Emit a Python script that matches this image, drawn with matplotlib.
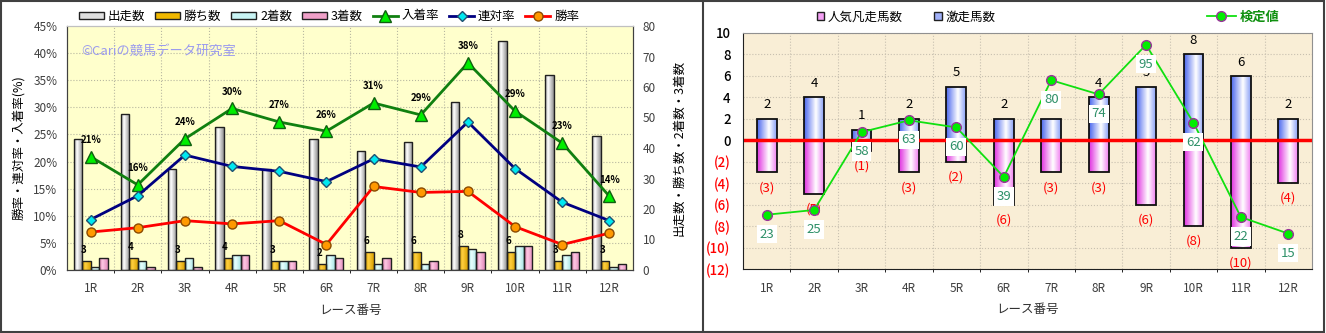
import numpy as np
import matplotlib
matplotlib.use('Agg')
import matplotlib.pyplot as plt
from matplotlib.colors import LinearSegmentedColormap
from matplotlib.patches import Rectangle, Patch
from matplotlib.lines import Line2D

plt.rcParams['font.family'] = ['Noto Sans CJK JP', 'DejaVu Sans']

# --- data (left chart) ---
races = [f'{i}R' for i in range(1, 13)]
runners = [43, 51, 33, 47, 33, 43, 39, 42, 55, 75, 64, 44]
wins = [3, 4, 3, 4, 3, 2, 6, 6, 8, 6, 3, 3]
seconds = [1, 3, 4, 5, 3, 5, 2, 2, 7, 8, 5, 1]
thirds = [4, 1, 1, 5, 3, 4, 4, 3, 6, 8, 6, 2]
place_rate = [20.9, 15.7, 24.2, 29.8, 27.3, 25.6, 30.8, 28.6, 38.2, 29.3, 23.4, 13.6]
quinella_rate = [9.3, 13.7, 21.2, 19.1, 18.2, 16.3, 20.5, 19.0, 27.3, 18.7, 12.5, 9.1]
win_rate = [7.0, 7.8, 9.1, 8.5, 9.1, 4.7, 15.4, 14.3, 14.5, 8.0, 4.7, 6.8]

# --- data (right chart) ---
hot_runs = [2, 4, 1, 2, 5, 2, 2, 4, 5, 8, 6, 2]        # 激走馬数
flop_runs = [3, 5, 1, 3, 2, 6, 3, 3, 6, 8, 10, 4]      # 人気凡走馬数
score = [23, 25, 58, 63, 60, 39, 80, 74, 95, 62, 22, 15]  # 検定値


def cmap(*cols):
    return LinearSegmentedColormap.from_list('c', list(cols))


def shade(ax, bars, cm):
    # cylinder-ish horizontal gradient like the Excel bars
    g = np.linspace(0, 1, 64).reshape(1, -1)
    for b in bars:
        x, y = b.get_xy()
        w, h = b.get_width(), b.get_height()
        b.set_facecolor('none')
        im = ax.imshow(g, cmap=cm, extent=(x, x + w, y, y + h), aspect='auto',
                       origin='lower', zorder=b.get_zorder() - 0.1,
                       interpolation='bilinear')
        im.set_clip_path(b)


fig = plt.figure(figsize=(13.26, 3.33), dpi=100)
W, H = 1326, 333

x = np.arange(len(races))

# ================= left chart =================
axb = fig.add_axes([67 / W, 1 - 270 / H, 566 / W, 244 / H])
axl = axb.twinx()
axb.set_facecolor('#FFFFCC')

bw = 0.18
cm_run = cmap((0, '#a0a0a0'), (0.35, '#ffffff'), (1, '#909090'))
cm_win = cmap((0, '#d09a00'), (0.4, '#ffd040'), (1, '#d8a000'))
cm_2nd = cmap((0, '#9fdcdc'), (0.4, '#eaffff'), (1, '#a8e4e4'))
cm_3rd = cmap((0, '#d878a8'), (0.4, '#ffc8e4'), (1, '#e088b8'))

specs = [(runners, cm_run, '出走数', '#e0e0e0'),
         (wins, cm_win, '勝ち数', '#f0b800'),
         (seconds, cm_2nd, '2着数', '#c8f4f4'),
         (thirds, cm_3rd, '3着数', '#f0a0c8')]
handles = []
for i, (vals, cm, lab, col) in enumerate(specs):
    bars = axb.bar(x + (i - 1.5) * bw, vals, bw, edgecolor='#202020', linewidth=1.0, zorder=2)
    shade(axb, bars, cm)
    handles.append(Patch(facecolor=col, edgecolor='#202020', linewidth=1.0, label=lab))

for xi, v in zip(x, wins):
    axb.annotate(str(v), (xi - 0.5 * bw, v), xytext=(-2, 4), textcoords='offset points',
                 ha='center', va='bottom', fontsize=7, fontweight='bold', zorder=3)

axb.set_ylim(0, 80)
axb.set_yticks(range(0, 81, 10))
axb.yaxis.tick_right()
axb.yaxis.set_label_position('right')
axb.set_ylabel('出走数・勝ち数・2着数・3着数', fontsize=9, labelpad=12)

# gridlines behind the bars (percent grid mapped onto count scale)
for p in range(5, 45, 5):
    axb.axhline(p * 80 / 45, color='#b8b8a0', linestyle=':', linewidth=0.8, zorder=0.5)
axb.set_xticks(np.arange(0.5, 11.5, 1), minor=True)
axb.grid(which='minor', axis='x', color='#b8b8a0', linestyle=':', linewidth=0.8)
axb.set_axisbelow(True)

l1, = axl.plot(x, place_rate, color='#108010', linewidth=2, marker='^', markersize=8,
               markerfacecolor='#00ee00', markeredgecolor='#106010', label='入着率')
l2, = axl.plot(x, quinella_rate, color='#000080', linewidth=2, marker='D', markersize=5,
               markerfacecolor='#00e8f0', markeredgecolor='#205070', label='連対率')
l3, = axl.plot(x, win_rate, color='#ff0000', linewidth=2, marker='o', markersize=6.5,
               markerfacecolor='#ff9900', markeredgecolor='#8a4a00', label='勝率')
for xi, v in zip(x, place_rate):
    axl.annotate(f'{round(v)}%', (xi, v), xytext=(0, 12), textcoords='offset points',
                 ha='center', va='center', fontsize=7, fontweight='bold')

axl.set_ylim(0, 45)
axl.set_yticks(range(0, 46, 5))
axl.set_yticklabels([f'{v}%' for v in range(0, 46, 5)])
axl.yaxis.tick_left()
axl.yaxis.set_label_position('left')
axl.set_ylabel('勝率・連対率・入着率(%)', fontsize=9, labelpad=6)

axb.set_xlim(-0.5, 11.5)
axb.set_xticks(x)
axb.set_xticklabels(races)
axb.set_xlabel('レース番号', fontsize=9, color='#303030', labelpad=6)
for a in (axb, axl):
    a.tick_params(length=0, labelsize=8.5, labelcolor='#404040', pad=7)
    for s in a.spines.values():
        s.set_color('#404040')
    a.spines['top'].set_color('#c0c0c0')
axb.tick_params(axis='x', pad=9)
axl.text(0.025, 0.895, '©Cariの競馬データ研究室', transform=axl.transAxes,
         fontsize=9.5, color='#9a9aee', va='center')

handles += [l1, l2, l3]
fig.legend(handles=handles, loc='center', bbox_to_anchor=(329 / W, 1 - 16 / H), ncol=7,
           frameon=False, fontsize=9, handlelength=2.0, handleheight=0.5,
           handletextpad=0.3, columnspacing=0.8, borderpad=0)

# ================= right chart =================
axr = fig.add_axes([743 / W, 1 - 269 / H, 569 / W, 236 / H])
axr.set_facecolor('#f9eed6')
rw = 0.42
cm_blue = cmap((0, '#4a66ee'), (0.6, '#ffffff'), (1, '#8aa0f6'))
cm_pink = cmap((0, '#e030e0'), (0.6, '#ffffff'), (1, '#f080f0'))
bh = axr.bar(x, hot_runs, rw, edgecolor='#101010', linewidth=1.3, zorder=2)
shade(axr, bh, cm_blue)
bf = axr.bar(x, [-v for v in flop_runs], rw, edgecolor='#101010', linewidth=1.3, zorder=2)
shade(axr, bf, cm_pink)
for xi, v in zip(x, hot_runs):
    axr.annotate(str(v), (xi, v), xytext=(0, 10), textcoords='offset points',
                 ha='center', va='center', fontsize=9.5, zorder=3)
for xi, v in zip(x, flop_runs):
    axr.annotate(f'({v})', (xi, -v), xytext=(0, -11), textcoords='offset points',
                 ha='center', va='center', fontsize=9.5, color='#ff0000', zorder=3)
axr.axhline(0, color='#ff0000', linewidth=2.5, zorder=2.5)

axr.set_ylim(-12, 10)
yt = list(range(-12, 11, 2))
axr.set_yticks(yt)
axr.set_yticklabels([str(v) if v >= 0 else f'({-v})' for v in yt])
for lbl, v in zip(axr.get_yticklabels(), yt):
    lbl.set_color('#ff0000' if v < 0 else '#000000')
    lbl.set_fontweight('medium')
axr.set_xticks(np.arange(0.5, 11.5, 1), minor=True)
axr.grid(which='minor', axis='x', color='#c8c0b0', linestyle=':', linewidth=0.8)
axr.grid(which='major', axis='y', color='#c8c0b0', linestyle=':', linewidth=0.8)
axr.set_axisbelow(True)
axr.set_xticks(x)
axr.set_xticklabels(races)
axr.tick_params(axis='y', length=0, labelsize=9.5, pad=9)
axr.tick_params(axis='x', length=0, labelsize=8.5, labelcolor='#404040', pad=9)
axr.set_xlabel('レース番号', fontsize=9, color='#303030', labelpad=6)
for s in axr.spines.values():
    s.set_color('#909090')
axr.spines['left'].set_color('#202020')
axr.spines['bottom'].set_color('#202020')

axs = axr.twinx()
axs.set_ylim(0, 100)
axs.axis('off')
ls, = axs.plot(x, score, color='#10e010', linewidth=1.3, marker='o', markersize=7,
               markerfacecolor='#00ee00', markeredgecolor='#993399', markeredgewidth=1,
               label='検定値')
for xi, v in zip(x, score):
    axs.annotate(str(v), (xi, v), xytext=(0, -14), textcoords='offset points',
                 ha='center', va='center', fontsize=9.5, color='#2e9068',
                 bbox=dict(boxstyle='square,pad=0.2', facecolor='white', edgecolor='none'))
axr.set_xlim(-0.5, 11.5)

hp = [Patch(facecolor='#f4a0f4', edgecolor='#202020', label='人気凡走馬数'),
      Patch(facecolor='#a0b0f8', edgecolor='#202020', label='激走馬数')]
fig.legend(handles=hp, loc='center', bbox_to_anchor=(906 / W, 1 - 17 / H), ncol=2,
           frameon=False, fontsize=9, handlelength=0.6, handleheight=0.6,
           handletextpad=0.3, columnspacing=2.5, borderpad=0)
lg = fig.legend(handles=[ls], loc='center', bbox_to_anchor=(1243 / W, 1 - 17 / H),
                frameon=False, fontsize=9.5, handlelength=2.2, handletextpad=0.3, borderpad=0)
for t in lg.get_texts():
    t.set_color('#109010')
    t.set_fontweight('bold')

# panel frames
fig.patches.append(Rectangle((1 / W, 1 / H), 1323 / W, 331 / H, transform=fig.transFigure,
                             fill=False, edgecolor='#404040', linewidth=1.5))
fig.lines.append(Line2D([703 / W, 703 / W], [1 / H, 332 / H], transform=fig.transFigure,
                        color='#404040', linewidth=1.5))

fig.savefig('out.png', dpi=100)
